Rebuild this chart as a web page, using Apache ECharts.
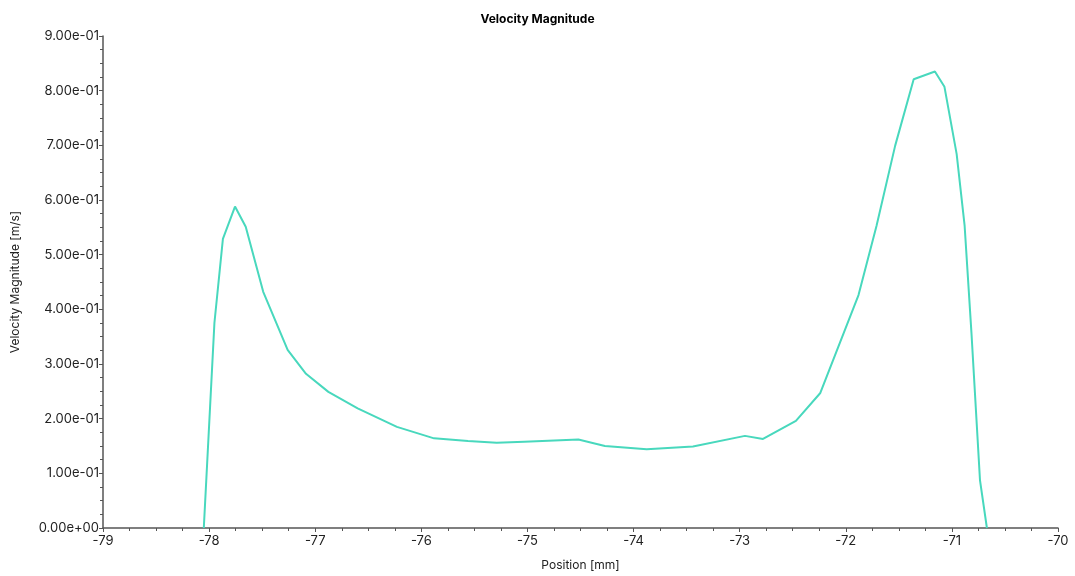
<!DOCTYPE html>
<html>
<head>
<meta charset="utf-8">
<script src="https://cdn.jsdelivr.net/npm/echarts@6/dist/echarts.min.js"></script>
<style>html,body{margin:0;padding:0;background:#fff}#c{width:1075px;height:576px}</style>
</head>
<body>
<div id="c"></div>
<script>
const positions = [-78.05, -77.95, -77.87, -77.756, -77.655, -77.49, -77.26, -77.087, -76.876, -76.6, -76.23, -75.88, -75.56, -75.29, -75.03, -74.52, -74.27, -73.876, -73.44, -72.95, -72.78, -72.47, -72.24, -71.88, -71.71, -71.535, -71.36, -71.16, -71.07, -70.955, -70.88, -70.815, -70.735, -70.67];
const velocity = [0.0, 0.375, 0.529, 0.588, 0.551, 0.432, 0.326, 0.282, 0.249, 0.219, 0.185, 0.164, 0.159, 0.156, 0.158, 0.162, 0.150, 0.144, 0.149, 0.1685, 0.163, 0.196, 0.247, 0.426, 0.553, 0.699, 0.821, 0.835, 0.807, 0.684, 0.553, 0.355, 0.087, 0.0];
const titleText = "Velocity Magnitude";
const xName = "Position [mm]";
const yName = "Velocity Magnitude [m/s]";

function fmtExp(v) {
  const s = Number(v).toExponential(2);
  const m = s.match(/^(-?[\d.]+)e([+-])(\d+)$/);
  if (!m) return s;
  return m[1] + 'e' + m[2] + (m[3].length < 2 ? '0' + m[3] : m[3]);
}

const chart = echarts.init(document.getElementById('c'));
const font = 'Inter, "Noto Sans", sans-serif';
chart.setOption({
  animation: false,
  title: {
    text: titleText, left: 'center', top: 8,
    textStyle: { fontFamily: font, fontSize: 12, fontWeight: 'bold', color: '#000' }
  },
  grid: { left: 103, right: 17, top: 36, bottom: 45, containLabel: false },
  xAxis: {
    type: 'value', min: -79, max: -70, interval: 1,
    name: xName, nameLocation: 'middle', nameGap: 31,
    nameTextStyle: { fontFamily: font, fontSize: 12, color: '#222' },
    axisLine: { onZero: false, lineStyle: { color: '#555', width: 1.5 } },
    axisTick: { show: true, length: 4, lineStyle: { color: '#555' } },
    minorTick: { show: true, splitNumber: 4, length: 3, lineStyle: { color: '#555' } },
    splitLine: { show: false },
    axisLabel: { fontFamily: font, fontSize: 13, color: '#222', margin: 7 }
  },
  yAxis: {
    type: 'value', min: 0, max: 0.9, interval: 0.1,
    name: yName, nameLocation: 'middle', nameGap: 82, nameRotate: 90,
    nameTextStyle: { fontFamily: font, fontSize: 12, color: '#222' },
    axisLine: { show: true, lineStyle: { color: '#555', width: 1.5 } },
    axisTick: { show: true, length: 4, lineStyle: { color: '#555' } },
    minorTick: { show: true, splitNumber: 4, length: 3, lineStyle: { color: '#555' } },
    splitLine: { show: false },
    axisLabel: { fontFamily: font, fontSize: 13, color: '#222', margin: 4, formatter: fmtExp }
  },
  series: [{
    type: 'line',
    data: positions.map((x, i) => [x, velocity[i]]),
    showSymbol: false,
    lineStyle: { color: '#48d8bd', width: 2 },
    itemStyle: { color: '#48d8bd' }
  }]
});
</script>
</body>
</html>
